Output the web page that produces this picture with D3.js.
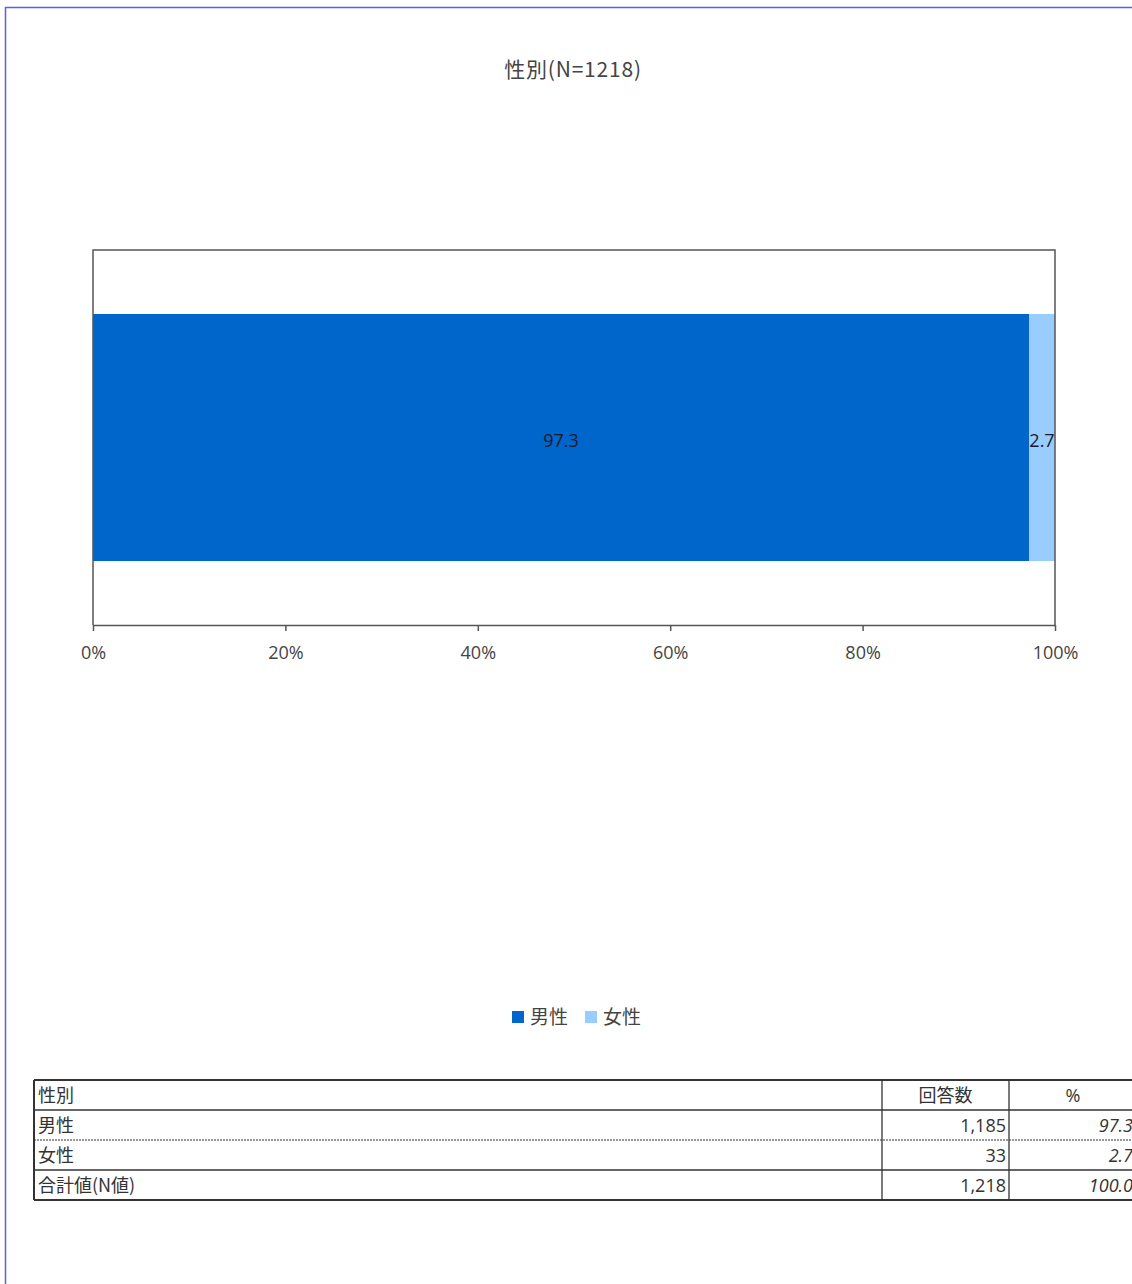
<!DOCTYPE html>
<html><head><meta charset="utf-8">
<script src="https://cdn.jsdelivr.net/npm/d3@7"></script>
<style>
body{margin:0;background:#fff;}
svg{display:block;font-family:"Noto Sans CJK JP","Noto Sans",sans-serif;}
</style></head>
<body>
<svg id="c" width="1132" height="1284"></svg>
<script>
const title = "性別(N=1218)";
const categories = ["男性", "女性"];
const percents = [97.3, 2.7];
const counts = [1185, 33];
const totalLabel = "合計値(N値)";
const totalCount = 1218;
const totalPercent = 100.0;
const colors = ["#0066CC", "#99CCFF"];
const tickValues = [0, 20, 40, 60, 80, 100];
const tableHeader = ["性別", "回答数", "%"];

(function(){
const svg = d3.select("#c");

// page frame
svg.append("line").attr("x1",5.5).attr("x2",5.5).attr("y1",7).attr("y2",1284).attr("stroke","#5c5cf0").attr("stroke-width",1.5);
svg.append("line").attr("x1",5).attr("x2",1132).attr("y1",7.5).attr("y2",7.5).attr("stroke","#5c5cf0").attr("stroke-width",1.5);

// title
svg.append("text").attr("x",573).attr("y",77).attr("text-anchor","middle")
  .attr("font-size",21).attr("letter-spacing",0.8).attr("fill","#444").text(title);

const pL=93, pR=1055, pT=250, pB=625;
const x = d3.scaleLinear().domain([0,100]).range([pL,pR]);
const y = d3.scaleBand().domain([title]).range([pT,pB]).paddingInner(0).paddingOuter(0.259);

let cum = 0;
const segs = percents.map((v,i)=>{const s={i,v,x0:cum,x1:cum+v}; cum+=v; return s;});

svg.append("g").selectAll("rect").data(segs).join("rect")
  .attr("x",d=>x(d.x0)).attr("width",d=>x(d.x1)-x(d.x0))
  .attr("y",y(title)).attr("height",y.bandwidth())
  .attr("fill",d=>colors[d.i]);

svg.append("g").selectAll("text").data(segs).join("text")
  .attr("x",d=>(x(d.x0)+x(d.x1))/2).attr("y",y(title)+y.bandwidth()/2+9)
  .attr("text-anchor","middle").attr("font-size",18).attr("fill","#1a1a2a")
  .attr("font-family","'Open Sans','Noto Sans',sans-serif")
  .text(d=>d.v.toFixed(1));

svg.append("path").attr("d",`M${pL},${pB}V${pT}H${pR}V${pB}`)
  .attr("fill","none").attr("stroke","#555").attr("stroke-width",1.5);

const ax = svg.append("g").attr("transform",`translate(0,${pB})`)
  .call(d3.axisBottom(x).tickValues(tickValues).tickFormat(d=>d+"%").tickSize(6).tickSizeOuter(0));
ax.select(".domain").attr("stroke","#555").attr("stroke-width",1.5);
ax.selectAll(".tick line").attr("stroke","#555").attr("stroke-width",1.5);
ax.selectAll(".tick text").attr("font-size",18).attr("fill","#444").attr("dy","1.4em")
  .attr("font-family","'Open Sans','Noto Sans',sans-serif");

// legend
const legX = [512, 585];
const lg = svg.append("g");
categories.forEach((c,i)=>{
  lg.append("rect").attr("x",legX[i]).attr("y",1011).attr("width",12).attr("height",12).attr("fill",colors[i]);
  lg.append("text").attr("x",legX[i]+18).attr("y",1024).attr("font-size",19).attr("fill","#444").text(c);
});

// table
const colX = [34, 882, 1009, 1137];
const rowY = [1080, 1110, 1140, 1170, 1200];
const tg = svg.append("g");
const rows = [
  [tableHeader[0], tableHeader[1], tableHeader[2]],
  [categories[0], d3.format(",")(counts[0]), percents[0].toFixed(1)],
  [categories[1], d3.format(",")(counts[1]), percents[1].toFixed(1)],
  [totalLabel, d3.format(",")(totalCount), totalPercent.toFixed(1)]
];
rowY.forEach((yy,i)=>{
  tg.append("line").attr("x1",colX[0]).attr("x2",1140).attr("y1",yy).attr("y2",yy)
    .attr("stroke", i===2 ? "#777" : "#333")
    .attr("stroke-width", (i===0||i===4)?2:1.3)
    .attr("stroke-dasharray", i===2 ? "2,1" : null);
});
colX.slice(0,3).forEach((xx,i)=>{
  tg.append("line").attr("x1",xx).attr("x2",xx).attr("y1",rowY[0]).attr("y2",rowY[4])
    .attr("stroke","#333").attr("stroke-width", i===0?2:1.3);
});
rows.forEach((r,ri)=>{
  const yy = rowY[ri]+22;
  tg.append("text").attr("x",colX[0]+4).attr("y",yy).attr("font-size",18).attr("fill","#333").text(r[0]);
  if(ri===0){
    tg.append("text").attr("x",(colX[1]+colX[2])/2).attr("y",yy).attr("text-anchor","middle").attr("font-size",18).attr("fill","#333").text(r[1]);
    tg.append("text").attr("x",(colX[2]+colX[3])/2).attr("y",yy).attr("text-anchor","middle").attr("font-size",18).attr("fill","#333").attr("font-family","'Open Sans',sans-serif").text(r[2]);
  } else {
    tg.append("text").attr("x",colX[2]-3).attr("y",yy).attr("text-anchor","end").attr("font-size",18).attr("fill","#333").attr("font-family","'Open Sans',sans-serif").text(r[1]);
    tg.append("text").attr("x",1133).attr("y",yy).attr("text-anchor","end").attr("font-size",18).attr("fill","#333").attr("font-style","italic").attr("font-family","'Open Sans',sans-serif").text(r[2]);
  }
});
})();
</script>
</body></html>
